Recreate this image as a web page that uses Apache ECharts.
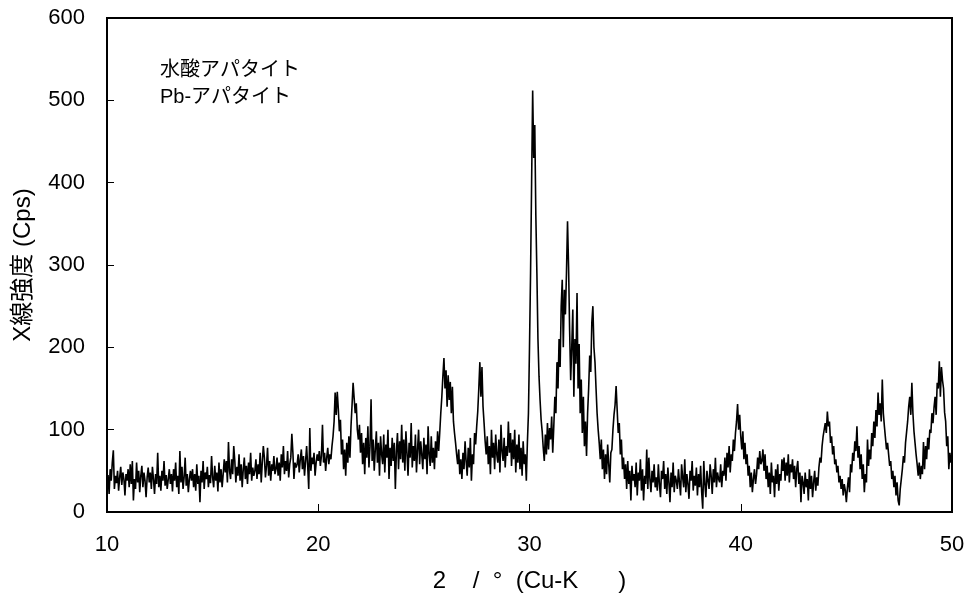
<!DOCTYPE html>
<html>
<head>
<meta charset="utf-8">
<script src="https://cdn.jsdelivr.net/npm/echarts@6/dist/echarts.min.js"></script>
<style>
html,body{margin:0;padding:0;background:#fff;}
#chart{width:968px;height:598px;}
</style>
</head>
<body>
<div id="chart"></div>
<script>
// 2θ sampling grid
const START_ANGLE = 10;
const STEP = 0.05;
// Intensity (Cps), one row per degree (20 samples each)
const intensity = [
  30,45,22,52,38,60,75,28,44,35,50,26,42,55,33,48,40,20,46,38,      // 10
  52,30,58,34,62,14,40,28,60,36,50,24,44,56,30,48,38,18,42,54,      // 11
  36,48,28,55,40,22,46,34,72,30,44,26,50,38,62,32,45,28,40,52,      // 12
  34,46,25,52,38,60,30,44,22,74,36,55,28,42,66,32,46,24,40,50,      // 13
  38,52,30,46,26,58,34,44,12,50,36,62,28,48,40,55,30,45,35,68,      // 14
  42,30,56,38,48,25,60,36,52,30,46,64,48,62,36,85,50,40,64,46,      // 15
  80,62,36,55,44,70,38,58,30,52,66,40,56,34,60,46,72,38,54,44,      // 16
  50,64,40,58,46,72,36,60,80,66,42,56,78,44,62,38,58,50,68,46,      // 17
  52,66,44,60,38,70,54,80,46,62,50,74,42,58,66,95,72,40,60,54,      // 18
  58,70,48,64,76,52,68,44,62,80,56,28,102,50,66,58,72,44,60,70,     // 19
  62,74,56,68,106,60,72,50,66,78,58,70,64,80,92,110,145,118,146,125,// 20
  98,112,70,88,52,76,44,84,60,92,66,104,130,157,138,120,132,100,88,106, // 21
  72,96,58,84,46,90,66,104,54,80,137,62,88,50,76,98,60,84,44,92,    // 22
  70,58,94,48,82,66,100,40,78,56,90,62,84,28,74,96,52,86,64,106,    // 23
  60,88,50,98,72,44,84,66,108,54,80,62,94,48,76,100,58,86,70,52,    // 24
  90,64,82,46,104,70,56,92,60,78,52,86,66,98,74,96,120,140,165,187, // 25
  150,172,128,166,136,158,120,152,110,96,84,70,58,76,46,64,40,72,52,86, // 26
  62,44,78,54,90,38,70,58,96,82,104,122,150,182,140,176,128,108,86,70,  // 27
  92,58,80,46,100,66,84,52,94,70,60,88,48,106,74,62,90,54,80,68,    // 28
  110,72,96,56,88,64,100,48,82,60,94,52,78,44,86,58,70,38,84,120,   // 29
  200,290,400,512,430,470,360,290,210,165,136,112,98,78,62,94,70,108,76,102, // 30
  88,116,72,104,140,120,182,150,210,176,250,282,200,270,240,290,353,298,220,160, // 31
  200,246,140,210,180,266,150,204,120,161,96,140,80,110,68,120,150,190,170,230, // 32
  250,200,182,150,120,100,84,64,88,52,76,40,70,46,82,58,36,72,76,100, // 33
  118,130,153,124,96,108,70,88,52,66,40,58,28,62,34,50,14,56,38,46, // 34
  30,60,20,48,38,64,26,52,14,44,34,76,28,66,40,24,50,36,58,30,      // 35
  42,26,58,34,18,50,40,62,28,46,22,54,36,12,48,30,60,24,44,38,      // 36
  28,52,36,20,58,42,30,64,24,46,34,16,50,38,62,26,44,32,54,20,      // 37
  46,30,56,24,4,62,34,18,50,38,28,58,44,22,52,36,66,30,48,40,       // 38
  36,58,30,50,44,66,38,72,54,80,48,70,62,88,74,96,110,131,100,118,  // 39
  92,76,98,64,84,58,70,44,56,30,48,24,40,52,34,46,66,52,74,58,      // 40
  62,76,50,70,40,56,30,48,22,60,36,44,18,52,34,58,26,46,38,64,      // 41
  50,66,38,60,44,70,36,58,48,64,40,56,30,52,62,34,48,12,44,36,      // 42
  22,48,30,40,14,52,28,44,18,36,50,26,42,32,54,66,60,80,92,100,     // 43
  108,96,122,104,110,84,92,70,80,58,64,48,56,36,44,28,40,20,34,26,  // 44
  12,30,42,24,58,48,72,62,86,74,104,66,80,52,70,40,58,24,46,36,     // 45
  88,56,76,64,96,80,110,90,124,104,145,118,132,110,161,120,104,90,76,84, // 46
  70,56,62,40,50,30,44,20,36,14,8,28,40,52,68,60,84,97,110,128,     // 47
  140,118,157,120,98,84,70,58,44,60,40,56,46,85,52,80,64,90,76,100, // 48
  96,120,108,127,140,118,157,150,183,140,176,160,150,121,110,80,92,52,72,60, // 49
  68                                                                // 50
];
const seriesNames = ['水酸アパタイト', 'Pb-アパタイト'];
const xTicks = [10, 20, 30, 40, 50];
const yTicks = [0, 100, 200, 300, 400, 500, 600];
const xAxisTitle = '2    /  °  (Cu-K      )';
const yAxisTitle = 'X線強度 (Cps)';

const points = intensity.map((v, i) => [+(START_ANGLE + i * STEP).toFixed(2), v]);

const FONT = "'Liberation Sans', 'Noto Sans CJK JP', sans-serif";
const chart = echarts.init(document.getElementById('chart'));
chart.setOption({
  animation: false,
  backgroundColor: '#fff',
  grid: {
    left: 107, right: 16, top: 18, bottom: 85,
    show: true, borderColor: '#000', borderWidth: 2, backgroundColor: 'transparent'
  },
  legend: {
    orient: 'vertical',
    left: 150, top: 54,
    itemWidth: 0, itemHeight: 0, itemGap: 5,
    icon: 'rect',
    data: seriesNames,
    selectedMode: false,
    textStyle: { fontFamily: FONT, fontSize: 20, color: '#000', lineHeight: 22 }
  },
  xAxis: {
    type: 'value',
    min: xTicks[0], max: xTicks[xTicks.length - 1], interval: 10,
    name: xAxisTitle,
    nameLocation: 'middle', nameGap: 57,
    nameTextStyle: { fontFamily: FONT, fontSize: 24, color: '#000' },
    axisLine: { show: true, lineStyle: { color: '#000', width: 2 } },
    axisTick: { show: true, inside: true, length: 8, lineStyle: { color: '#000', width: 1 } },
    axisLabel: { fontFamily: FONT, fontSize: 22, color: '#000', margin: 22 },
    splitLine: { show: false }
  },
  yAxis: {
    type: 'value',
    min: yTicks[0], max: yTicks[yTicks.length - 1], interval: 100,
    name: yAxisTitle,
    nameLocation: 'middle', nameGap: 72,
    nameTextStyle: { fontFamily: FONT, fontSize: 24, color: '#000' },
    axisLine: { show: true, lineStyle: { color: '#000', width: 2 } },
    axisTick: { show: true, inside: true, length: 7, lineStyle: { color: '#000', width: 1 } },
    axisLabel: { fontFamily: FONT, fontSize: 22, color: '#000', margin: 22 },
    splitLine: { show: false }
  },
  series: [
    {
      name: seriesNames[0],
      type: 'line',
      data: points,
      showSymbol: false,
      symbol: 'none',
      lineStyle: { color: '#000', width: 1.6 },
      itemStyle: { color: '#000' }
    },
    {
      name: seriesNames[1],
      type: 'line',
      data: [],
      showSymbol: false,
      symbol: 'none',
      lineStyle: { color: '#000', width: 1.6 },
      itemStyle: { color: '#000' }
    }
  ]
});
</script>
</body>
</html>
